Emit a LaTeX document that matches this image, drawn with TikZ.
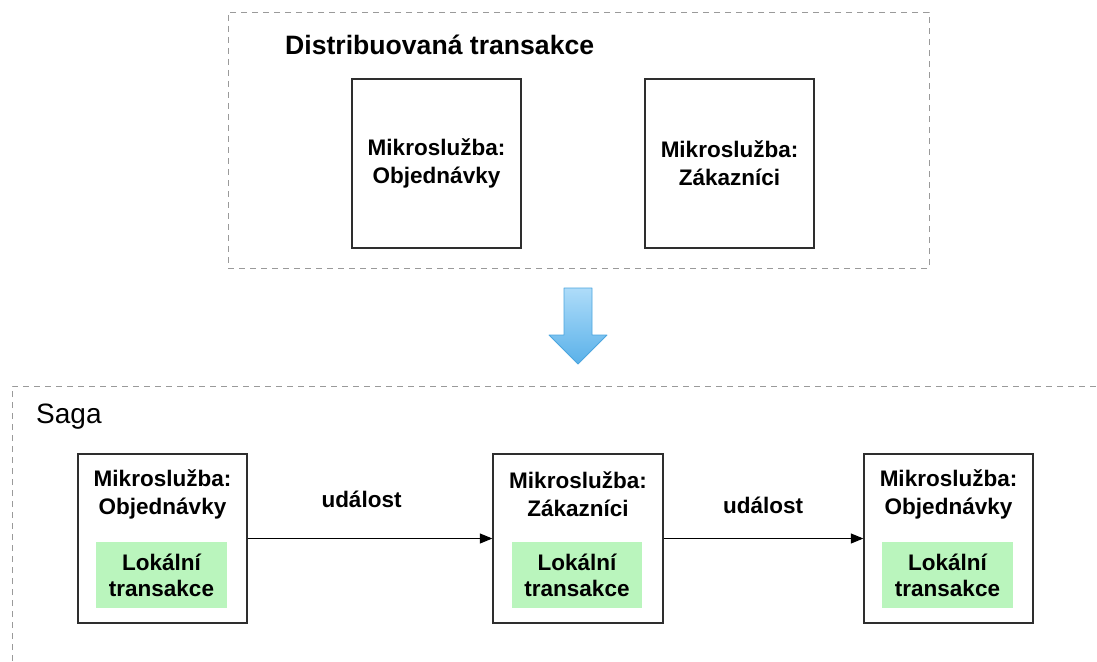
\documentclass[tikz,border=0pt]{standalone}
\usepackage{fontspec}
\setmainfont{Liberation Sans}
\usetikzlibrary{arrows.meta}
\definecolor{framegray}{HTML}{9A9A9A}
\definecolor{boxline}{HTML}{2E2E2E}
\definecolor{localgreen}{HTML}{BAF5BD}
\definecolor{arrowtop}{HTML}{AEDCF9}
\definecolor{arrowbot}{HTML}{5AB1E9}
\definecolor{arrowedge}{HTML}{4CA6DF}
\tikzset{
  frame/.style={draw=framegray, line width=0.9pt, dash pattern=on 6pt off 5pt},
  service/.style={draw=boxline, line width=1.3pt, fill=white, minimum width=169pt, minimum height=169pt, inner sep=0pt},
  svclabel/.style={align=center, font=\bfseries\fontsize{22.5}{28}\selectfont, inner sep=0pt},
  localtx/.style={fill=localgreen, minimum width=131pt, minimum height=66pt, inner sep=0pt, align=center, font=\bfseries\fontsize{22.5}{26}\selectfont},
  event/.style={draw=black, line width=1pt, -{Triangle[length=12.5pt,width=10pt]}},
  evlabel/.style={font=\bfseries\fontsize{22.5}{26}\selectfont, inner sep=0pt, anchor=base},
}
\begin{document}
\begin{tikzpicture}[x=1pt, y=-1pt]
\useasboundingbox (0,0) rectangle (1097,661);
\fill[white] (0,0) rectangle (1097,661);

% distributed transaction frame
\node[frame, minimum width=701pt, minimum height=256pt, inner sep=0pt] (dist) at (578.5,140) {};
\node[font=\bfseries\fontsize{26.6}{30}\selectfont, inner sep=0pt, anchor=base west] (disttitle) at (285,55) {Distribuovaná transakce};
\node[service] (orders) at (436.5,163.5) {};
\node[svclabel] (orderstxt) at (orders) {Mikroslužba:\\Objednávky};
\node[service] (customers) at (729.5,163.5) {};
\node[svclabel] (customerstxt) at (customers) {Mikroslužba:\\Zákazníci};

% transformation arrow
\shade[top color=arrowtop, bottom color=arrowbot, draw=arrowedge, line width=0.8pt, line join=round]
  (564,288) -- (592,288) -- (592,335) -- (607,335) -- (578,364) -- (549,335) -- (564,335) -- cycle;

% saga frame (open to the right and bottom)
\draw[frame] (12,661) -- (12,386) -- (1097,386);
\node[font=\fontsize{28}{32}\selectfont, inner sep=0pt, anchor=base west] (saga) at (36,423) {Saga};

% saga steps
\node[service] (s1) at (162.5,538.5) {};
\node[svclabel] (s1txt) at (162.5,494) {Mikroslužba:\\Objednávky};
\node[localtx] (s1tx) at (161.5,575) {Lokální\\transakce};

\node[service, minimum width=170pt] (s2) at (578,538.5) {};
\node[svclabel] (s2txt) at (578,494) {Mikroslužba:\\Zákazníci};
\node[localtx, minimum width=130pt] (s2tx) at (577,575) {Lokální\\transakce};

\node[service] (s3) at (948.5,538.5) {};
\node[svclabel] (s3txt) at (948.5,494) {Mikroslužba:\\Objednávky};
\node[localtx] (s3tx) at (947.5,575) {Lokální\\transakce};

% events between steps
\draw[event] (s1.east) -- (s2.west);
\draw[event] (s2.east) -- (s3.west);
\node[evlabel] (ev1) at (361.5,507) {událost};
\node[evlabel] (ev2) at (763,513) {událost};
\end{tikzpicture}
\end{document}
